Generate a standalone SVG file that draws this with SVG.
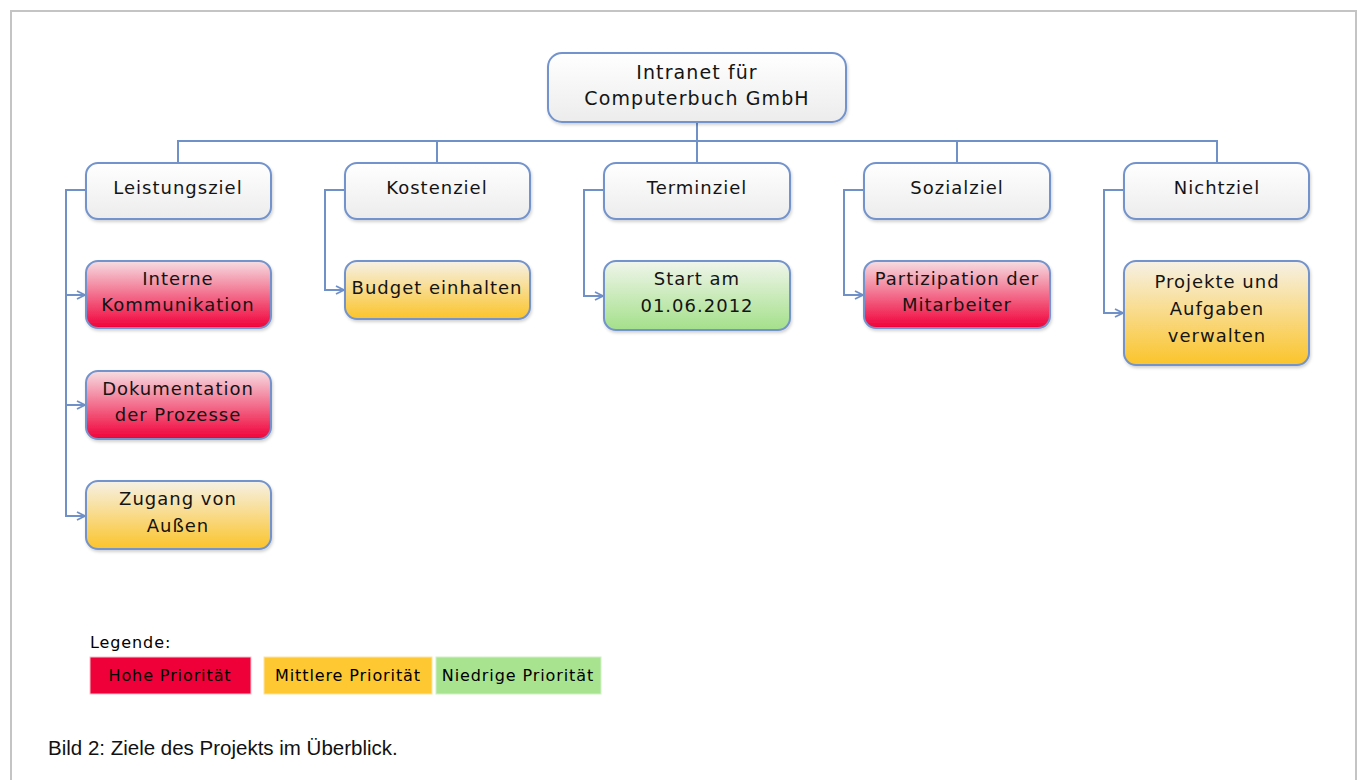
<svg xmlns="http://www.w3.org/2000/svg" width="1357" height="780" viewBox="0 0 1357 780">
<defs>
<linearGradient id="gW" x1="0" y1="0" x2="0" y2="1"><stop offset="0" stop-color="#ffffff"/><stop offset="1" stop-color="#ececec"/></linearGradient>
<linearGradient id="gR" x1="0" y1="0" x2="0" y2="1"><stop offset="0" stop-color="#f6dde2"/><stop offset="1" stop-color="#f00038"/></linearGradient>
<linearGradient id="gO" x1="0" y1="0" x2="0" y2="1"><stop offset="0" stop-color="#f6f1e6"/><stop offset="1" stop-color="#fbc42a"/></linearGradient>
<linearGradient id="gG" x1="0" y1="0" x2="0" y2="1"><stop offset="0" stop-color="#f0f5ec"/><stop offset="1" stop-color="#a4e08a"/></linearGradient>
<filter id="sh" x="-10%" y="-10%" width="120%" height="130%"><feDropShadow dx="1" dy="2" stdDeviation="1.5" flood-color="#000" flood-opacity="0.18"/></filter>
<marker id="arr" viewBox="0 0 10 10" refX="9" refY="5" markerWidth="10" markerHeight="10" markerUnits="userSpaceOnUse" orient="auto"><path d="M1,1 L9,5 L1,9" fill="none" stroke="#6f8fc9" stroke-width="1.8"/></marker>
</defs>
<style>
.box{stroke:#7393cc;stroke-width:2;filter:url(#sh)}
.t{font-family:"DejaVu Sans",Verdana,sans-serif;font-size:18px;letter-spacing:1px;fill:#141414;text-anchor:middle}
.r{font-size:19px;letter-spacing:1.1px}
.c{fill:none;stroke:#7090c8;stroke-width:2}
.lg{font-family:"DejaVu Sans",Verdana,sans-serif;font-size:16px;letter-spacing:0.9px;fill:#000;text-anchor:middle}
</style>
<rect x="0" y="0" width="1357" height="780" fill="#ffffff"/>
<path d="M11,780 V11 H1356 V780" fill="none" stroke="#c4c4c4" stroke-width="2"/>

<g id="connectors">
<path class="c" d="M697,122 V141 M178,163 V141 H1217 V163 M437,141 V163 M697,141 V163 M957,141 V163"/>
<path class="c" d="M86,190 H66 V517" />
<path class="c" d="M66,295 H85" marker-end="url(#arr)"/>
<path class="c" d="M66,405 H85" marker-end="url(#arr)"/>
<path class="c" d="M66,516 H85" marker-end="url(#arr)"/>
<path class="c" d="M345,190 H325 V290 H344" marker-end="url(#arr)"/>
<path class="c" d="M604,190 H584 V296 H603" marker-end="url(#arr)"/>
<path class="c" d="M864,190 H844 V295 H863" marker-end="url(#arr)"/>
<path class="c" d="M1124,190 H1104 V313 H1123" marker-end="url(#arr)"/>
</g>

<g id="root"><rect class="box" x="548" y="53" width="298" height="69" rx="14" fill="url(#gW)"/>
<text class="t r" x="697" y="79">Intranet für</text><text class="t r" x="697" y="105">Computerbuch GmbH</text></g>

<g id="leistungsziel"><rect class="box" x="86" y="163" width="185" height="56" rx="12" fill="url(#gW)"/><text class="t" x="178" y="194">Leistungsziel</text></g>
<g id="kostenziel"><rect class="box" x="345" y="163" width="185" height="56" rx="12" fill="url(#gW)"/><text class="t" x="437" y="194">Kostenziel</text></g>
<g id="terminziel"><rect class="box" x="604" y="163" width="186" height="56" rx="12" fill="url(#gW)"/><text class="t" x="697" y="194">Terminziel</text></g>
<g id="sozialziel"><rect class="box" x="864" y="163" width="186" height="56" rx="12" fill="url(#gW)"/><text class="t" x="957" y="194">Sozialziel</text></g>
<g id="nichtziel"><rect class="box" x="1124" y="163" width="185" height="56" rx="12" fill="url(#gW)"/><text class="t" x="1217" y="194">Nichtziel</text></g>

<g id="interne"><rect class="box" x="86" y="261" width="185" height="67" rx="12" fill="url(#gR)"/><text class="t" x="178" y="285">Interne</text><text class="t" x="178" y="311">Kommunikation</text></g>
<g id="doku"><rect class="box" x="86" y="371" width="185" height="68" rx="12" fill="url(#gR)"/><text class="t" x="178" y="395">Dokumentation</text><text class="t" x="178" y="421">der Prozesse</text></g>
<g id="zugang"><rect class="box" x="86" y="481" width="185" height="68" rx="12" fill="url(#gO)"/><text class="t" x="178" y="505">Zugang von</text><text class="t" x="178" y="532">Außen</text></g>
<g id="budget"><rect class="box" x="345" y="261" width="185" height="58" rx="12" fill="url(#gO)"/><text class="t" x="437" y="294">Budget einhalten</text></g>
<g id="start"><rect class="box" x="604" y="261" width="186" height="69" rx="12" fill="url(#gG)"/><text class="t" x="697" y="285">Start am</text><text class="t" x="697" y="312">01.06.2012</text></g>
<g id="partizipation"><rect class="box" x="864" y="261" width="186" height="67" rx="12" fill="url(#gR)"/><text class="t" x="957" y="285">Partizipation der</text><text class="t" x="957" y="311">Mitarbeiter</text></g>
<g id="projekte"><rect class="box" x="1124" y="261" width="185" height="104" rx="12" fill="url(#gO)"/><text class="t" x="1217" y="288">Projekte und</text><text class="t" x="1217" y="315">Aufgaben</text><text class="t" x="1217" y="342">verwalten</text></g>

<g id="legend">
<text class="lg" x="90" y="648" style="text-anchor:start">Legende:</text>
<rect x="90" y="657" width="161" height="37" fill="#f00038" stroke="#f6c0cc" stroke-width="1"/>
<text class="lg" x="170" y="681">Hohe Priorität</text>
<rect x="264" y="657" width="168" height="37" fill="#fec832" stroke="#fde3a0" stroke-width="1"/>
<text class="lg" x="348" y="681">Mittlere Priorität</text>
<rect x="436" y="657" width="165" height="37" fill="#a8e490" stroke="#d0f0c4" stroke-width="1"/>
<text class="lg" x="518" y="681">Niedrige Priorität</text>
</g>

<text x="48" y="755" font-family="Liberation Sans, Arial, sans-serif" font-size="20.5" fill="#111">Bild 2: Ziele des Projekts im Überblick.</text>
</svg>
